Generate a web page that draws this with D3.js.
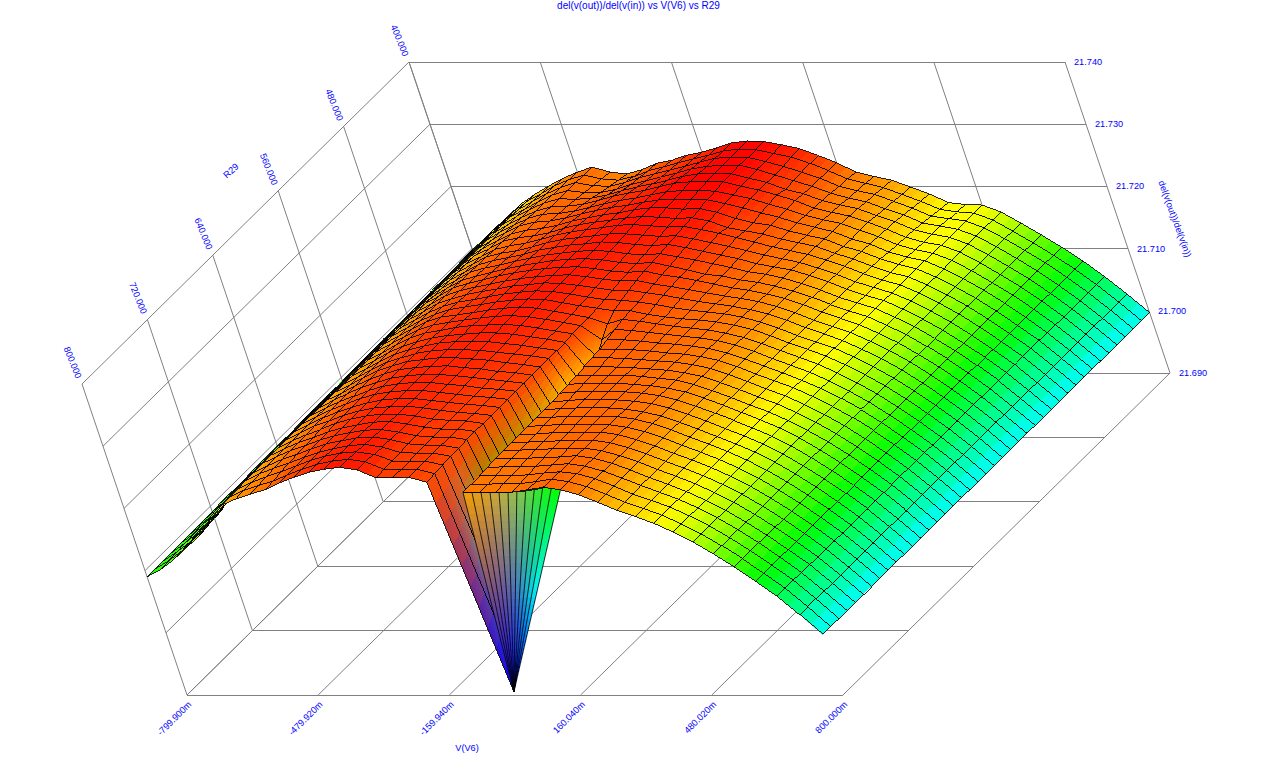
<!DOCTYPE html>
<html><head><meta charset="utf-8">
<style>html,body{margin:0;background:#fff}svg{display:block}
text{font-family:"Liberation Sans",Arial,sans-serif;fill:#0000ff;font-size:9.2px}</style>
<script src="https://cdn.jsdelivr.net/npm/d3@7"></script>
</head><body><svg id="c" width="1276" height="769"></svg>
<script>
const titleText="del(v(out))/del(v(in)) vs V(V6) vs R29";
const xName="V(V6)", yName="R29", zName="del(v(out))/del(v(in))";
const vTicks=[-799.9,-479.92,-159.94,160.04,480.02,800];
const vLabels=["-799.900m","-479.920m","-159.940m","160.040m","480.020m","800.000m"];
const rTicks=[800,720,640,560,480,400];
const rLabels=["800.000","720.000","640.000","560.000","480.000","400.000"];
const zTicks=[21.69,21.70,21.71,21.72,21.73,21.74];
const zLabels=["21.690","21.700","21.710","21.720","21.730","21.740"];
const vGrid=[-800,-760,-720,-680,-640,-600,-560,-520,-480,-440,-400,-360,-320,-280,-240,-200,-160,-120,-80,-40,0,40,80,120,160,200,240,280,320,360,400,440,480,520,560,600,640,680,720,760,800];
const rGrid=[400,410,420,430,440,450,460,470,480,490,500,510,520,530,540,550,560,570,580,590,600,610,620,630,640,650,660,670,680,690,700,710,720,730,740,750,760,770,780,790,800];
// surface values: height above zBase in units of zUnit, one list per R value, one entry per V value
const zBase=21.69, zUnit=1e-4;
const r400=[198,217,236,255,273,288,301,313,323,331,323,320,327,337,342,350,355,362,370,373,372,367,361,350,338,323,316,310,299,288,274,271,270,259,241,222,202,180,155,127,97];
const r410=[198,217,236,255,273,289,301,314,324,331,325,323,329,338,344,351,357,363,370,373,372,366,360,350,338,325,318,311,300,289,276,272,270,259,241,222,202,180,155,127,97];
const r420=[197,216,235,254,273,289,302,314,324,332,327,326,332,340,346,352,358,365,371,373,372,366,358,349,339,326,319,313,302,291,278,274,270,259,242,223,203,180,155,127,97];
const r430=[197,216,235,254,273,290,302,314,325,332,329,329,334,342,348,354,360,367,371,373,373,366,357,348,339,328,320,314,303,293,280,275,270,259,242,223,203,180,155,127,97];
const r440=[197,216,235,254,273,290,303,315,325,332,331,333,338,345,351,356,362,368,372,373,372,365,358,347,340,329,322,316,305,295,282,275,270,259,242,223,203,180,155,127,97];
const r450=[197,216,235,254,272,290,303,315,325,332,333,336,342,349,354,358,364,370,372,372,372,365,359,351,342,330,323,317,307,296,283,275,270,259,242,223,203,180,155,127,97];
const r460=[196,215,234,253,272,290,304,315,326,333,334,338,344,350,355,359,364,369,371,371,370,364,358,349,341,331,324,318,307,297,284,276,270,259,242,223,203,180,155,127,97];
const r470=[196,215,234,253,272,290,304,316,327,333,335,340,346,352,357,360,365,369,370,369,369,363,356,348,341,332,325,318,306,298,285,277,271,258,242,224,203,180,155,127,97];
const r480=[196,215,234,253,272,290,304,316,327,333,336,341,348,353,358,361,366,369,369,367,368,362,352,345,341,332,325,319,307,299,287,278,271,258,242,224,203,180,156,127,97];
const r490=[196,215,234,252,271,290,305,316,328,334,337,342,349,355,359,362,366,368,367,365,366,361,350,345,340,332,326,320,309,300,288,278,271,258,242,224,203,180,156,127,97];
const r500=[196,214,233,252,271,290,305,316,328,334,338,344,351,356,360,363,367,368,366,364,365,360,354,347,340,332,326,320,311,301,289,279,271,258,242,224,203,180,156,127,97];
const r510=[196,214,233,252,271,290,305,317,329,335,339,345,352,357,360,363,366,366,364,362,363,358,352,346,339,332,326,320,311,301,289,280,271,258,242,224,203,180,156,127,97];
const r520=[195,214,233,252,271,290,305,317,329,336,341,346,353,357,361,363,366,365,362,360,362,357,351,345,339,331,326,321,312,302,290,280,272,258,242,224,203,181,156,127,97];
const r530=[195,214,233,252,271,290,305,317,330,337,342,348,353,358,361,364,365,364,360,358,360,355,350,344,338,331,327,321,312,302,290,281,272,258,243,224,204,181,156,127,97];
const r540=[195,214,233,251,270,290,305,318,330,337,343,349,354,358,362,364,365,363,359,357,359,353,347,340,337,331,327,321,313,303,291,281,272,258,243,224,204,181,156,127,97];
const r550=[195,213,232,251,270,290,306,318,331,338,344,350,355,359,362,364,365,362,358,356,358,352,348,343,337,331,327,321,314,304,292,282,272,258,243,224,204,181,156,127,97];
const r560=[195,213,232,251,270,290,306,318,331,339,345,350,355,359,362,364,365,362,358,355,356,350,346,341,336,331,327,322,314,304,292,282,272,258,243,225,204,181,156,128,97];
const r570=[194,213,232,251,270,290,306,318,331,339,346,351,355,360,362,365,364,361,357,353,353,349,345,340,335,331,327,322,315,305,293,283,272,258,243,225,204,181,156,128,97];
const r580=[194,213,232,251,270,289,306,318,330,340,347,351,356,360,363,365,364,360,355,351,350,347,343,338,334,331,328,323,315,305,293,283,273,259,243,225,204,181,156,128,97];
const r590=[194,212,231,250,270,289,306,318,330,340,348,352,356,360,363,365,364,359,354,350,346,346,340,336,333,331,328,323,316,306,294,284,273,259,243,225,204,181,156,128,97];
const r600=[194,212,231,250,270,289,306,318,330,341,349,352,356,360,363,365,363,358,353,348,338,345,342,338,334,331,328,323,316,306,295,284,273,259,243,225,204,181,156,128,97];
const r610=[194,212,231,250,269,289,306,318,330,341,349,353,357,360,363,364,362,358,353,348,325,342,340,337,334,331,328,324,317,307,295,284,273,259,243,225,204,181,156,128,97];
const r620=[193,212,231,250,269,289,306,317,330,341,349,353,358,361,362,363,361,357,352,348,310,339,338,336,333,331,328,324,317,307,296,285,273,260,244,226,205,182,157,128,97];
const r630=[193,211,230,249,269,289,306,317,330,340,348,354,358,360,362,362,360,356,352,347,295,336,336,335,333,330,328,324,318,308,296,285,274,260,244,226,205,182,157,128,97];
const r640=[193,211,230,249,269,288,306,317,329,340,348,354,359,361,361,361,358,355,351,347,285,335,335,334,332,330,328,324,318,308,297,285,274,260,244,226,205,182,157,128,97];
const r650=[193,211,230,249,269,288,306,317,329,340,348,355,359,361,361,360,357,354,351,347,275,334,334,333,332,330,328,324,318,308,297,285,274,260,244,226,205,182,157,128,97];
const r660=[193,211,230,249,268,288,306,317,329,340,348,355,358,361,361,359,357,353,350,346,265,332,333,333,333,331,328,325,318,308,297,285,274,260,244,226,205,182,157,128,97];
const r670=[193,210,229,248,268,288,306,317,329,339,348,355,358,360,361,358,356,352,350,346,255,331,333,333,333,331,329,325,319,309,298,286,274,261,245,226,205,182,157,128,97];
const r680=[192,210,229,248,268,288,306,318,329,339,347,354,358,360,360,358,355,352,349,346,245,330,332,333,333,332,330,326,319,309,298,286,274,261,245,226,205,182,157,128,97];
const r690=[192,210,229,248,268,288,307,318,329,338,347,354,358,360,360,357,355,351,349,346,235,329,331,333,333,332,330,326,319,309,298,286,274,261,245,226,205,182,157,128,97];
const r700=[192,210,229,248,268,288,307,318,329,338,347,354,358,360,360,357,354,351,349,346,225,329,331,332,333,332,330,326,319,309,298,286,274,261,245,226,205,182,157,128,97];
const r710=[192,209,228,248,268,288,307,318,329,338,346,353,358,360,360,357,354,351,349,346,215,329,330,332,332,332,331,327,320,310,298,287,275,261,245,226,205,182,157,128,97];
const r720=[191,208,227,247,267,287,307,318,329,337,346,353,358,360,361,358,354,351,349,346,210,328,330,331,332,332,331,327,320,310,298,287,275,261,245,226,205,182,157,128,97];
const r730=[191,208,226,246,266,287,307,318,328,337,346,353,358,361,361,358,353,351,350,346,205,328,329,331,331,332,332,328,320,310,298,287,275,261,245,226,205,182,157,128,97];
const r740=[191,207,225,245,265,286,307,318,328,336,345,352,357,361,362,358,353,350,350,346,200,328,329,330,331,332,332,328,320,310,298,287,275,261,245,226,205,182,157,128,97];
const r750=[191,207,224,244,264,286,307,318,328,336,345,352,357,361,362,358,352,350,350,346,180,328,329,330,331,332,332,328,320,310,298,287,275,261,245,226,205,182,157,128,97];
const r760=[191,206,223,243,263,285,306,317,327,335,344,352,357,362,363,359,352,350,350,345,150,328,328,329,330,331,333,329,321,310,298,287,275,261,245,226,205,182,158,128,97];
const r770=[190,205,222,241,261,283,306,317,326,334,343,351,357,362,364,360,351,350,350,345,110,327,328,328,329,331,333,329,321,310,298,287,276,262,246,227,206,183,158,128,97];
const r780=[190,204,220,239,259,282,305,316,325,333,342,351,358,363,365,361,350,349,350,344,67,327,327,327,328,331,333,330,322,310,297,287,276,262,246,227,206,183,159,129,97];
const r790=[190,203,219,238,257,281,305,316,324,331,341,350,358,363,366,362,350,349,350,343,25,326,326,327,327,330,334,330,322,310,297,287,276,262,246,227,206,183,159,129,97];
const r800=[190,202,218,237,255,279,305,315,323,330,341,350,358,363,366,362,349,349,350,342,5,326,326,326,326,330,334,330,322,310,297,287,276,262,246,227,206,183,159,129,97];
const zRows=[r400,r410,r420,r430,r440,r450,r460,r470,r480,r490,r500,r510,r520,r530,r540,r550,r560,r570,r580,r590,r600,r610,r620,r630,r640,r650,r660,r670,r680,r690,r700,r710,r720,r730,r740,r750,r760,r770,r780,r790,r800];
// the fan below the R=800 edge that closes on the spike at V=0
const fanV=[40,62,84,106,128,150,172,194,216,238,260,280];
const fanZ=[326,326,326,326,326,326,327,328,330,333,334,330];
const fanRimColors=["#f5a000","#eda010","#e2a020","#d8a230","#cca840","#bcae50","#a8b660","#90c060","#70d058","#50e048","#30f030","#10ff20"];
const trenchCol=20;

const toZ=v=>zBase+v*zUnit;
const vX=d3.scaleLinear([-799.9,800],[187,843]);
const rX=d3.scaleLinear([800,400],[0,327]);
const rY=d3.scaleLinear([800,400],[695,373]);
const zX=d3.scaleLinear([21.69,21.74],[0,-105]);
const zY=d3.scaleLinear([21.69,21.74],[0,-311]);
const P=(v,r,z)=>[vX(v)+rX(r)+zX(z),rY(r)+zY(z)];
const colorOf=d3.scaleLinear().domain([8,96,184,272,374].map(toZ)).range(["#0000ff","#00ffff","#00ff00","#ffff00","#ff0000"]).clamp(true);
const rgbParts=s=>{const c=d3.rgb(s);return [c.r,c.g,c.b];};
const rgbOf=z=>rgbParts(colorOf(z));
const mix=(a,b,t)=>a.map((q,k)=>q+(b[k]-q)*t);
const css=c=>`rgb(${c.map(Math.round).join(",")})`;
const path=d3.line();
const svg=d3.select("#c");

// walls and floor
const grid=[];
const seg=(a,b)=>grid.push([a,b]);
const vMin=vTicks[0],vMax=vTicks[5],rBack=400,rFront=800,zLo=21.69,zHi=21.74;
vTicks.forEach(v=>{seg(P(v,rBack,zHi),P(v,rBack,zLo));seg(P(v,rBack,zLo),P(v,rFront,zLo));});
rTicks.forEach(r=>{seg(P(vMin,r,zHi),P(vMin,r,zLo));seg(P(vMin,r,zLo),P(vMax,r,zLo));});
zTicks.forEach(z=>{seg(P(vMin,rBack,z),P(vMax,rBack,z));seg(P(vMin,rBack,z),P(vMin,rFront,z));});
svg.append("g").selectAll("path").data(grid).join("path").attr("d",d=>path(d))
  .attr("fill","none").attr("stroke","#808080").attr("stroke-width",1)
  .attr("shape-rendering",d=>Math.abs(d[0][1]-d[1][1])<0.5?"crispEdges":"auto");

// surface pieces, painted back to front
const pieces=[];
const bilerp=(a,b,c,d,s,t)=>mix(mix(a,b,s),mix(d,c,s),t);
function addCell(i,j){
  const v0=vGrid[i],v1=vGrid[i+1],r0=rGrid[j],r1=rGrid[j+1];
  const z00=toZ(zRows[j][i]),z10=toZ(zRows[j][i+1]),z11=toZ(zRows[j+1][i+1]),z01=toZ(zRows[j+1][i]);
  const a=P(v0,r0,z00),b=P(v1,r0,z10),c=P(v1,r1,z11),d=P(v0,r1,z01);
  if(i===trenchCol){
    const area=(b[0]-a[0])*(d[1]-a[1])-(b[1]-a[1])*(d[0]-a[0]);
    if(area<0) return;
  }
  const ca=rgbOf(z00),cb=rgbOf(z10),cc=rgbOf(z11),cd=rgbOf(z01);
  const S=i===trenchCol-1?10:2;
  for(let u=0;u<S;u++)for(let w=0;w<S;w++){
    const s0=u/S,s1=(u+1)/S,t0=w/S,t1=(w+1)/S;
    const q=[bilerp(a,b,c,d,s0,t0),bilerp(a,b,c,d,s1,t0),bilerp(a,b,c,d,s1,t1),bilerp(a,b,c,d,s0,t1)];
    pieces.push({d:path(q)+"Z",fill:css(bilerp(ca,cb,cc,cd,(s0+s1)/2,(t0+t1)/2)),line:false});
  }
  pieces.push({d:path([a,b,c,d])+"Z",fill:"none",line:true,width:0.85,render:"crispEdges"});
}
function addFan(){
  const tipZ=toZ(r800[trenchCol]),tip=P(vGrid[trenchCol],rFront,tipZ),tipRgb=rgbOf(tipZ);
  const rim=fanV.map((v,k)=>P(v,rFront,toZ(fanZ[k])));
  const greenZ=toZ(184);
  const bands=28;
  const shade=(k,t)=>{
    const f=k/(fanV.length-1);
    return mix(mix(rgbParts(fanRimColors[k]),tipRgb,t),rgbOf(greenZ+(tipZ-greenZ)*t),f*f*f);
  };
  for(let k=0;k<rim.length-1;k++)for(let b=0;b<bands;b++){
    const t0=b/bands,t1=(b+1)/bands,L=(p,t)=>mix(p,tip,t);
    pieces.push({d:path([L(rim[k],t0),L(rim[k+1],t0),L(rim[k+1],t1),L(rim[k],t1)])+"Z",
      fill:css(mix(shade(k,(t0+t1)/2),shade(k+1,(t0+t1)/2),.5)),line:false});
  }
  rim.forEach(p=>pieces.push({d:path([p,tip]),fill:"none",line:true,width:0.8,render:"auto"}));
  pieces.push({d:path(rim),fill:"none",line:true,width:0.85,render:"crispEdges"});
}
for(let i=0;i<vGrid.length-1;i++){
  for(let j=0;j<rGrid.length-1;j++) addCell(i,j);
  if(i===trenchCol) addFan();
}
svg.append("g").selectAll("path").data(pieces).join("path")
  .attr("d",d=>d.d).attr("fill",d=>d.fill)
  .attr("stroke",d=>d.line?"#000":"none").attr("stroke-width",d=>d.line?d.width:0)
  .attr("shape-rendering",d=>d.render||"crispEdges");

// text
const T=svg.append("g");
T.append("text").attr("x",638.5).attr("y",9).attr("text-anchor","middle").style("font-size","10px").text(titleText);
T.selectAll(".z").data(zTicks).join("text").attr("class","z")
  .attr("x",d=>P(vMax,rBack,d)[0]+9).attr("y",d=>P(vMax,rBack,d)[1]+3).text((d,k)=>zLabels[k]);
T.selectAll(".r").data(rTicks).join("text").attr("class","r").attr("text-anchor","end")
  .attr("transform",d=>{const p=P(vMin,d,zHi);return `translate(${p[0]-6},${p[1]-5}) rotate(68)`;})
  .text((d,k)=>rLabels[k]);
T.selectAll(".v").data(vTicks).join("text").attr("class","v").attr("text-anchor","end")
  .attr("transform",d=>{const p=P(d,rFront,zLo);return `translate(${p[0]+5},${p[1]+10}) rotate(-45)`;})
  .text((d,k)=>vLabels[k]);
T.append("text").attr("x",467).attr("y",751).attr("text-anchor","middle").text(xName);
T.append("text").attr("text-anchor","middle").attr("transform","translate(233,173) rotate(-42)").text(yName);
T.append("text").attr("text-anchor","middle").attr("transform","translate(1172,220) rotate(70)").text(zName);
</script></body></html>
